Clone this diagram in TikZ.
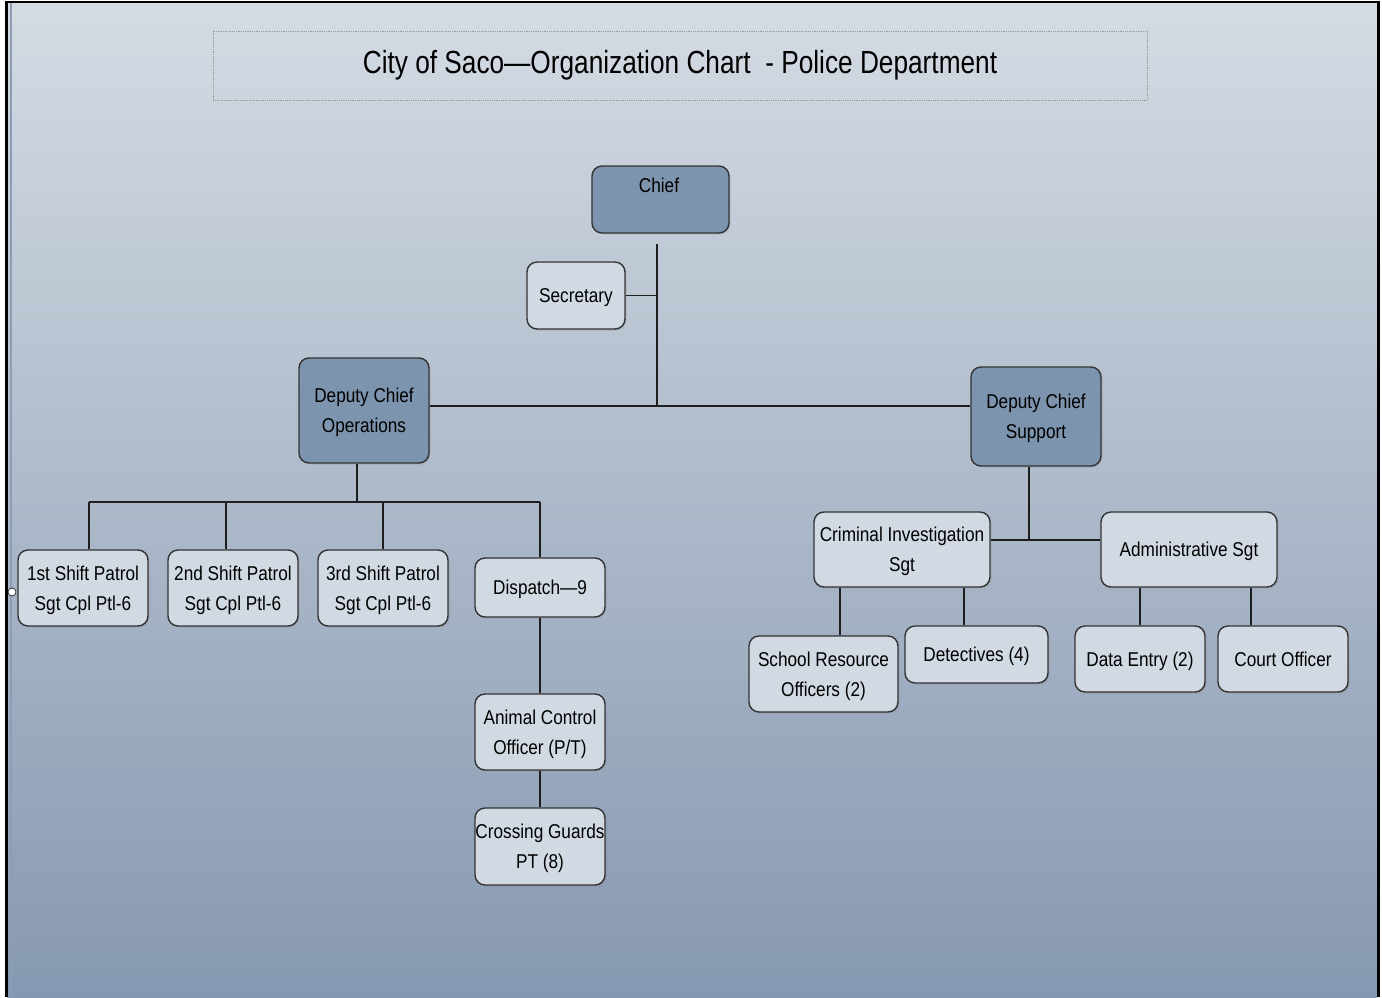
\documentclass[tikz,border=0pt]{standalone}
\usepackage{fontspec}
\setmainfont{Liberation Sans}[FakeStretch=0.86]
\newfontfamily\titlefont{Liberation Sans}[FakeStretch=0.82]
\usetikzlibrary{shadows}
\definecolor{bgtop}{HTML}{D4DBE3}
\definecolor{bgbot}{HTML}{8698B1}
\definecolor{darkfill}{HTML}{7D94AE}
\definecolor{lightfill}{HTML}{D1D9E2}
\definecolor{edge}{HTML}{333333}
\definecolor{conn}{HTML}{1E1E1E}
\definecolor{stripe}{HTML}{8C9DB5}
\tikzset{
  box/.style={draw=edge, line width=1.4pt, rounded corners=10pt, align=center,
    inner sep=0pt, font=\fontsize{20}{30}\selectfont, text depth=-7pt,
    drop shadow={shadow xshift=1.5pt, shadow yshift=-1.5pt, opacity=0.25}},
  darkbox/.style={box, fill=darkfill},
  lightbox/.style={box, fill=lightfill},
  wire/.style={draw=conn, line width=1.4pt},
}
\begin{document}
\begin{tikzpicture}[x=1pt, y=-1pt]
\useasboundingbox (0,0) rectangle (1382,997);
% background
\fill[white] (0,0) rectangle (1382,997);
\shade[top color=bgtop, bottom color=bgbot] (7,3) rectangle (1377,997);
\fill[black] (5,1) rectangle (7.5,997);
\fill[black] (5,1) rectangle (1380,3.2);
\fill[black] (1376.5,1) rectangle (1380,997);
\fill[stripe] (9.5,3) rectangle (11.5,997);
% title
\node[draw=gray!80, densely dotted, line width=0.8pt, minimum width=934pt, minimum height=69pt,
      font=\titlefont\fontsize{32}{36}\selectfont] (title) at (680,65.5) {City of Saco—Organization Chart\ \ - Police Department};
% nodes
\node[darkbox, minimum width=137pt, minimum height=67pt] (chief) at (660.5,199.5) {};
\node[anchor=base, font=\fontsize{20}{30}\selectfont] (chieft) at (659,192) {Chief};
\node[lightbox, minimum width=98pt, minimum height=67pt] (sec) at (576,295.5) {Secretary};
\node[darkbox, minimum width=130pt, minimum height=105pt] (dco) at (364,410.5) {Deputy Chief\\Operations};
\node[darkbox, minimum width=130pt, minimum height=99pt] (dcs) at (1036,416.5) {Deputy Chief\\Support};
\node[lightbox, minimum width=130pt, minimum height=76pt] (s1) at (83,588) {1st Shift Patrol\\Sgt Cpl Ptl-6};
\node[lightbox, minimum width=130pt, minimum height=76pt] (s2) at (233,588) {2nd Shift Patrol\\Sgt Cpl Ptl-6};
\node[lightbox, minimum width=130pt, minimum height=76pt] (s3) at (383,588) {3rd Shift Patrol\\Sgt Cpl Ptl-6};
\node[lightbox, minimum width=130pt, minimum height=59pt] (disp) at (540,587.5) {Dispatch—9};
\node[lightbox, minimum width=130pt, minimum height=76pt] (ac) at (540,732) {Animal Control\\Officer (P/T)};
\node[lightbox, minimum width=130pt, minimum height=77pt] (cg) at (540,846.5) {Crossing Guards\\PT (8)};
\node[lightbox, minimum width=176pt, minimum height=75pt] (ci) at (902,549.5) {Criminal Investigation\\Sgt};
\node[lightbox, minimum width=176pt, minimum height=75pt] (adm) at (1189,549.5) {Administrative Sgt};
\node[lightbox, minimum width=149pt, minimum height=76pt] (sro) at (823.5,674) {School Resource\\Officers (2)};
\node[lightbox, minimum width=143pt, minimum height=57pt] (det) at (976.5,654.5) {Detectives (4)};
\node[lightbox, minimum width=130pt, minimum height=66pt] (de) at (1140,659) {Data Entry (2)};
\node[lightbox, minimum width=130pt, minimum height=66pt] (co) at (1283,659) {Court Officer};
% small handle
\node[circle, draw=edge, fill=white, line width=0.8pt, inner sep=0pt, minimum size=8pt] (hd) at (12,592) {};
% connectors
\coordinate (ct) at (657,244);
\coordinate (cj) at (657,406);
\coordinate (oj) at (357,502);
\coordinate (sj) at (1029,540);
\draw[wire] (ct) -- (cj);
\draw[wire] (sec.east) -- (ct |- sec.east);
\draw[wire] (dco.east |- cj) -- (dcs.west |- cj);
\draw[wire] ([xshift=-7pt]dco.south) -- (oj);
\draw[wire] ([xshift=6pt]s1.north |- oj) -- (disp.north |- oj);
\draw[wire] ([xshift=6pt]s1.north |- oj) -- ([xshift=6pt]s1.north);
\draw[wire] ([xshift=-7pt]s2.north |- oj) -- ([xshift=-7pt]s2.north);
\draw[wire] (s3.north |- oj) -- (s3.north);
\draw[wire] (disp.north |- oj) -- (disp.north);
\draw[wire] (disp.south) -- (ac.north);
\draw[wire] (ac.south) -- (cg.north);
\draw[wire] ([xshift=-7pt]dcs.south) -- (sj);
\draw[wire] (ci.east |- sj) -- (adm.west |- sj);
\draw[wire] ([xshift=-62pt]ci.south) -- ([xshift=16.5pt]sro.north);
\draw[wire] ([xshift=62pt]ci.south) -- ([xshift=-12.5pt]det.north);
\draw[wire] ([xshift=-49pt]adm.south) -- (de.north);
\draw[wire] ([xshift=62pt]adm.south) -- ([xshift=-32pt]co.north);
\end{tikzpicture}
\end{document}
